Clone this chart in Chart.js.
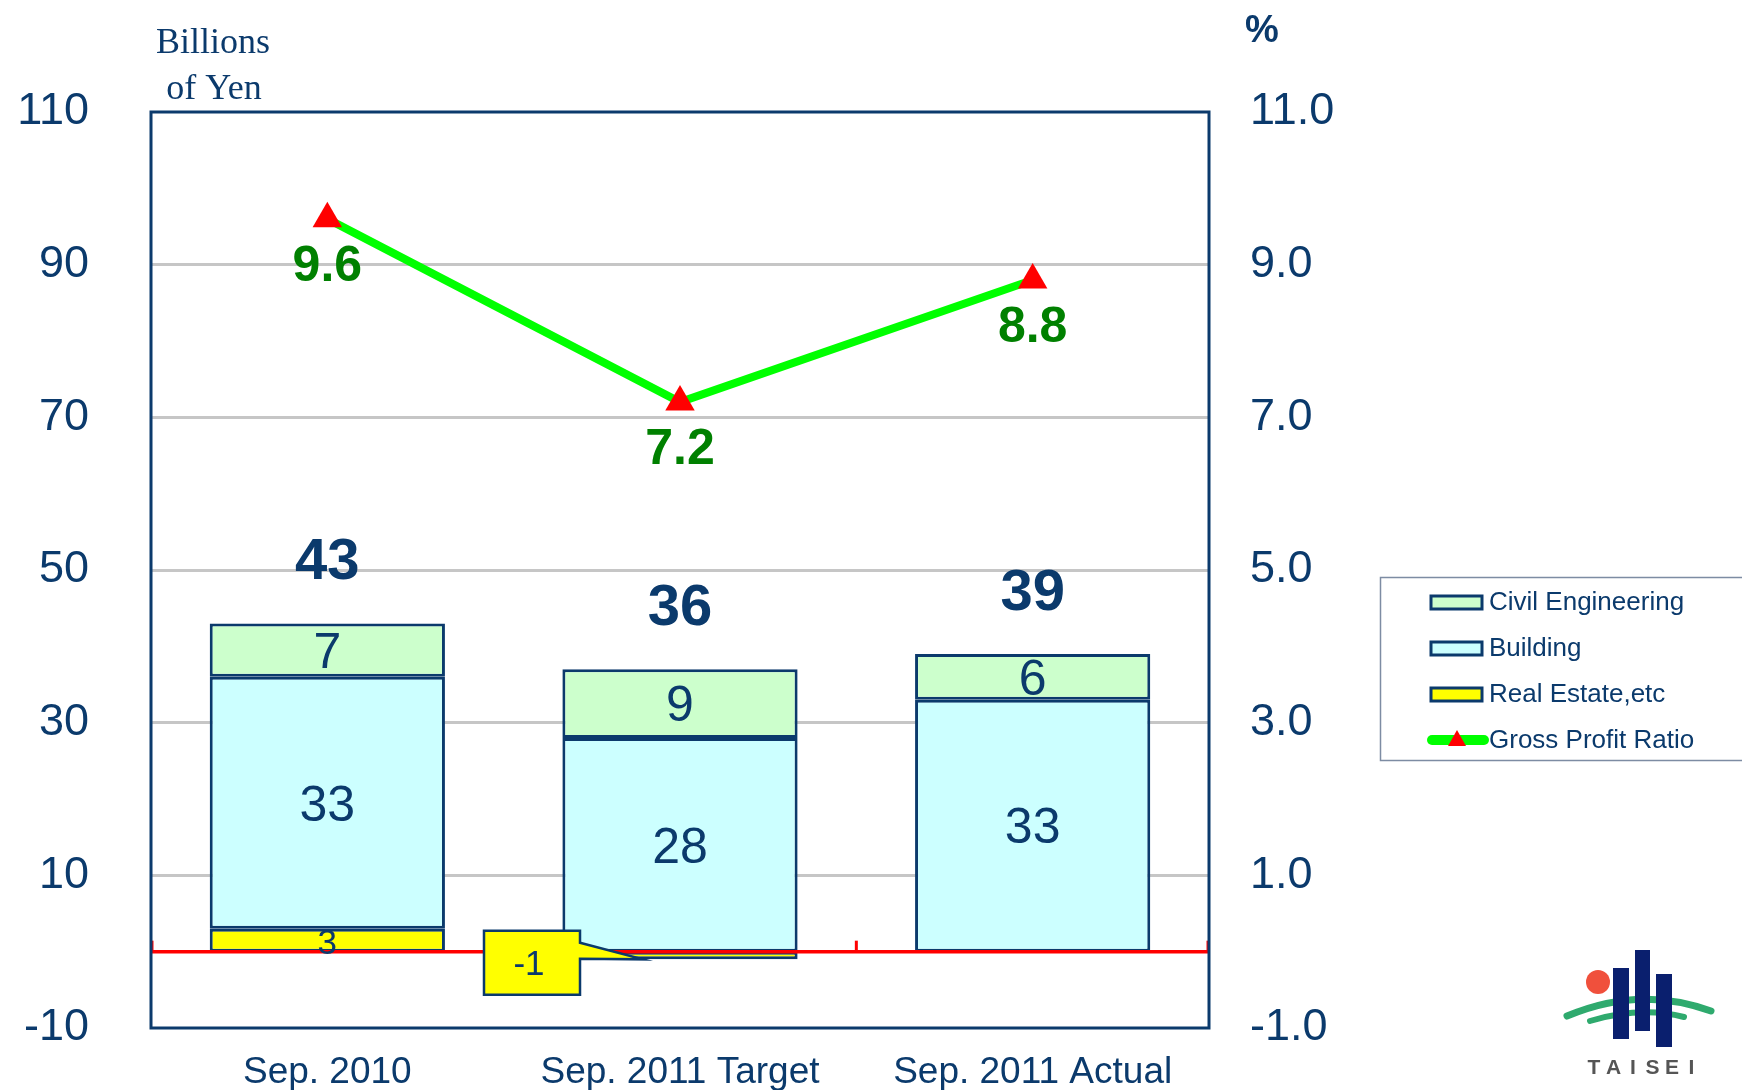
<!DOCTYPE html>
<html><head><meta charset="utf-8">
<script src="https://cdn.jsdelivr.net/npm/chart.js@4.4.0/dist/chart.umd.min.js"></script>
<style>html,body{margin:0;padding:0;background:#fff;}#wrap{width:1742px;height:1090px;}</style>
</head><body><div id="wrap"><canvas id="c" width="1742" height="1090"></canvas></div>
<script>
// ---- data ----
const categories = ['Sep. 2010', 'Sep. 2011 Target', 'Sep. 2011 Actual'];
const realEstate = [3, -1, 0];
const building = [33, 28, 33];
const civilEngineering = [7, 9, 6];
const grossProfitRatio = [9.6, 7.2, 8.8];
const leftTickValues = [-10, 10, 30, 50, 70, 90, 110];
const rightTickValues = [-1, 1, 3, 5, 7, 9, 11];
const seriesNames = ['Real Estate,etc', 'Building', 'Civil Engineering', 'Gross Profit Ratio'];

// ---- style ----
const NAVY = '#0b3a6c';
const SANS = '"Liberation Sans", Arial, sans-serif';
const SERIF = '"Liberation Serif", "Times New Roman", serif';
const COLORS = { re: '#ffff00', bld: '#ccffff', civ: '#ccffcc', line: '#00ff00', marker: '#ff0000' };

const overlay = {
  id: 'overlay',
  beforeDraw(chart) {
    const ctx = chart.ctx;
    ctx.save();
    ctx.fillStyle = '#fff';
    ctx.fillRect(0, 0, chart.width, chart.height);
    ctx.restore();
  },
  afterDatasetsDraw(chart) {
    const ctx = chart.ctx, ca = chart.chartArea;
    const xs = chart.scales.x, ys = chart.scales.y;
    ctx.save();
    // zero line with category separator ticks
    const y0 = ys.getPixelForValue(0);
    ctx.strokeStyle = '#ff0000';
    ctx.lineWidth = 3.5;
    ctx.beginPath(); ctx.moveTo(ca.left, y0); ctx.lineTo(ca.right, y0); ctx.stroke();
    const n = categories.length;
    ctx.lineWidth = 3;
    for (let i = 0; i <= n; i++) {
      const x = (i === 0) ? ca.left + 1 : (i === n ? ca.right - 1 : (xs.getPixelForValue(i - 1) + xs.getPixelForValue(i)) / 2);
      ctx.beginPath(); ctx.moveTo(x, y0); ctx.lineTo(x, y0 - 11); ctx.stroke();
    }
    // segment labels
    ctx.textAlign = 'center';
    ctx.textBaseline = 'middle';
    for (let d = 0; d < 3; d++) {
      const meta = chart.getDatasetMeta(d);
      const vals = chart.data.datasets[d].data;
      meta.data.forEach((el, i) => {
        const v = vals[i];
        if (!v) return;
        const h = Math.abs(el.base - el.y);
        if (v < 0) {
          // callout box pointing at the negative segment
          const bx = el.x - 148, by = y0 + 11;
          const w = 96, hh = 64;
          const left = bx - w / 2, right = bx + w / 2, top = by - hh / 2, bot = by + hh / 2;
          const tipX = el.x - 37, tipY = Math.max(el.y, el.base);
          ctx.fillStyle = COLORS.re;
          ctx.strokeStyle = NAVY;
          ctx.lineWidth = 2.5;
          ctx.beginPath();
          ctx.moveTo(left, top); ctx.lineTo(right, top); ctx.lineTo(right, top + 12);
          ctx.lineTo(tipX, tipY); ctx.lineTo(right, top + 28); ctx.lineTo(right, bot);
          ctx.lineTo(left, bot); ctx.closePath();
          ctx.fill(); ctx.stroke();
          ctx.fillStyle = NAVY;
          ctx.font = '35px ' + SANS;
          ctx.fillText(String(v), bx - 3, by + 3);
        } else {
          ctx.fillStyle = NAVY;
          ctx.font = (h > 40 ? '50px ' : '35px ') + SANS;
          ctx.fillText(String(v), el.x, (el.y + el.base) / 2 + 4);
        }
      });
    }
    // totals above each stack
    ctx.fillStyle = NAVY;
    ctx.font = 'bold 58px ' + SANS;
    for (let i = 0; i < n; i++) {
      let pos = 0, tot = 0;
      [realEstate, building, civilEngineering].forEach(a => { tot += a[i]; if (a[i] > 0) pos += a[i]; });
      ctx.fillText(String(tot), xs.getPixelForValue(i), ys.getPixelForValue(pos) - 60);
    }
    // line labels
    ctx.fillStyle = '#008000';
    ctx.font = 'bold 50px ' + SANS;
    const lm = chart.getDatasetMeta(3);
    lm.data.forEach((p, i) => {
      ctx.fillText(grossProfitRatio[i].toFixed(1), p.x, p.y + 48);
    });
    ctx.restore();
  },
  afterDraw(chart) {
    const ctx = chart.ctx, ca = chart.chartArea;
    ctx.save();
    // plot border
    ctx.strokeStyle = NAVY;
    ctx.lineWidth = 3;
    ctx.strokeRect(ca.left, ca.top, ca.right - ca.left, ca.bottom - ca.top);
    // unit titles
    ctx.fillStyle = NAVY;
    ctx.textAlign = 'center';
    ctx.textBaseline = 'alphabetic';
    ctx.font = '36px ' + SERIF;
    ctx.fillText('Billions', 213, 53);
    ctx.fillText('of Yen', 214, 99);
    ctx.font = 'bold 38px ' + SANS;
    ctx.fillText('%', 1262, 42);
    // legend
    ctx.strokeStyle = '#7d8ca3';
    ctx.lineWidth = 1.5;
    ctx.strokeRect(1380.5, 577.5, 380, 183);
    const items = [
      { name: seriesNames[2], fill: COLORS.civ },
      { name: seriesNames[1], fill: COLORS.bld },
      { name: seriesNames[0], fill: COLORS.re },
      { name: seriesNames[3], line: true }
    ];
    ctx.textAlign = 'left';
    ctx.textBaseline = 'middle';
    ctx.font = '26px ' + SANS;
    items.forEach((it, k) => {
      const cy = 602 + k * 46;
      if (it.line) {
        ctx.strokeStyle = COLORS.line;
        ctx.lineWidth = 10;
        ctx.lineCap = 'round';
        ctx.beginPath(); ctx.moveTo(1432, cy); ctx.lineTo(1484, cy); ctx.stroke();
        ctx.fillStyle = COLORS.marker;
        ctx.beginPath(); ctx.moveTo(1457, cy - 10); ctx.lineTo(1466, cy + 6); ctx.lineTo(1448, cy + 6); ctx.closePath(); ctx.fill();
      } else {
        ctx.fillStyle = it.fill;
        ctx.strokeStyle = NAVY;
        ctx.lineWidth = 3;
        ctx.fillRect(1431, cy - 6, 51, 13);
        ctx.strokeRect(1431, cy - 6, 51, 13);
      }
      ctx.fillStyle = NAVY;
      ctx.fillText(it.name, 1489, cy + 1);
    });
    // logo
    ctx.lineCap = 'round';
    ctx.strokeStyle = '#2faa6e';
    ctx.lineWidth = 7;
    ctx.beginPath(); ctx.moveTo(1567, 1016); ctx.quadraticCurveTo(1640, 985, 1711, 1011); ctx.stroke();
    ctx.lineWidth = 6;
    ctx.beginPath(); ctx.moveTo(1590, 1021); ctx.quadraticCurveTo(1640, 1006, 1684, 1017); ctx.stroke();
    ctx.fillStyle = '#f0503c';
    ctx.beginPath(); ctx.arc(1598, 982, 12, 0, Math.PI * 2); ctx.fill();
    ctx.fillStyle = '#0a1f6e';
    ctx.fillRect(1613, 968, 16, 71);
    ctx.fillRect(1635, 950, 15, 81);
    ctx.fillRect(1656, 974, 16, 73);
    ctx.fillStyle = '#555';
    ctx.font = 'bold 21px ' + SANS;
    ctx.textAlign = 'center';
    const letters = 'TAISEI';
    for (let k = 0; k < letters.length; k++) ctx.fillText(letters[k], 1594 + k * 19.5, 1068);
    ctx.restore();
  }
};

const barCommon = { borderColor: NAVY, borderWidth: 3, borderSkipped: false, barPercentage: 0.667, categoryPercentage: 1, stack: 's', order: 1, yAxisID: 'y' };

new Chart(document.getElementById('c'), {
  type: 'bar',
  data: {
    labels: categories,
    datasets: [
      Object.assign({ label: seriesNames[0], data: realEstate, backgroundColor: COLORS.re }, barCommon),
      Object.assign({ label: seriesNames[1], data: building, backgroundColor: COLORS.bld }, barCommon),
      Object.assign({ label: seriesNames[2], data: civilEngineering, backgroundColor: COLORS.civ }, barCommon),
      { type: 'line', label: seriesNames[3], data: grossProfitRatio, yAxisID: 'y1', order: 0,
        borderColor: COLORS.line, borderWidth: 8, pointStyle: 'triangle', pointRadius: 17, pointHoverRadius: 17,
        pointBackgroundColor: COLORS.marker, pointBorderColor: COLORS.marker, pointBorderWidth: 0, tension: 0, clip: false }
    ]
  },
  options: {
    responsive: false,
    devicePixelRatio: 1,
    animation: false,
    layout: { padding: { top: 112, left: 0, right: 0, bottom: 0 } },
    plugins: { legend: { display: false }, tooltip: { enabled: false } },
    scales: {
      x: {
        stacked: true, offset: true,
        grid: { display: false }, border: { display: false },
        ticks: { font: { family: SANS, size: 37 }, color: NAVY, padding: 15, maxRotation: 0, autoSkip: false },
        afterFit(s) { s.height = 62; }
      },
      y: {
        stacked: true, position: 'left', min: -10, max: 110,
        afterBuildTicks(s) { s.ticks = leftTickValues.map(v => ({ value: v })); },
        ticks: { font: { family: SANS, size: 45 }, color: NAVY, padding: 0 },
        grid: { color: c => (c.tick && (c.tick.value === -10 || c.tick.value === 110)) ? 'rgba(0,0,0,0)' : '#c6c6c6',
                lineWidth: 3, drawTicks: true, tickLength: 62, tickColor: 'rgba(0,0,0,0)' },
        border: { display: false },
        afterFit(s) { s.width = 151; }
      },
      y1: {
        position: 'right', min: -1, max: 11,
        afterBuildTicks(s) { s.ticks = rightTickValues.map(v => ({ value: v })); },
        ticks: { font: { family: SANS, size: 45 }, color: NAVY, padding: 0, callback: v => Number(v).toFixed(1) },
        grid: { drawOnChartArea: false, drawTicks: true, tickLength: 41, tickColor: 'rgba(0,0,0,0)' },
        border: { display: false },
        afterFit(s) { s.width = 533; }
      }
    }
  },
  plugins: [overlay]
});
</script>
</body></html>
